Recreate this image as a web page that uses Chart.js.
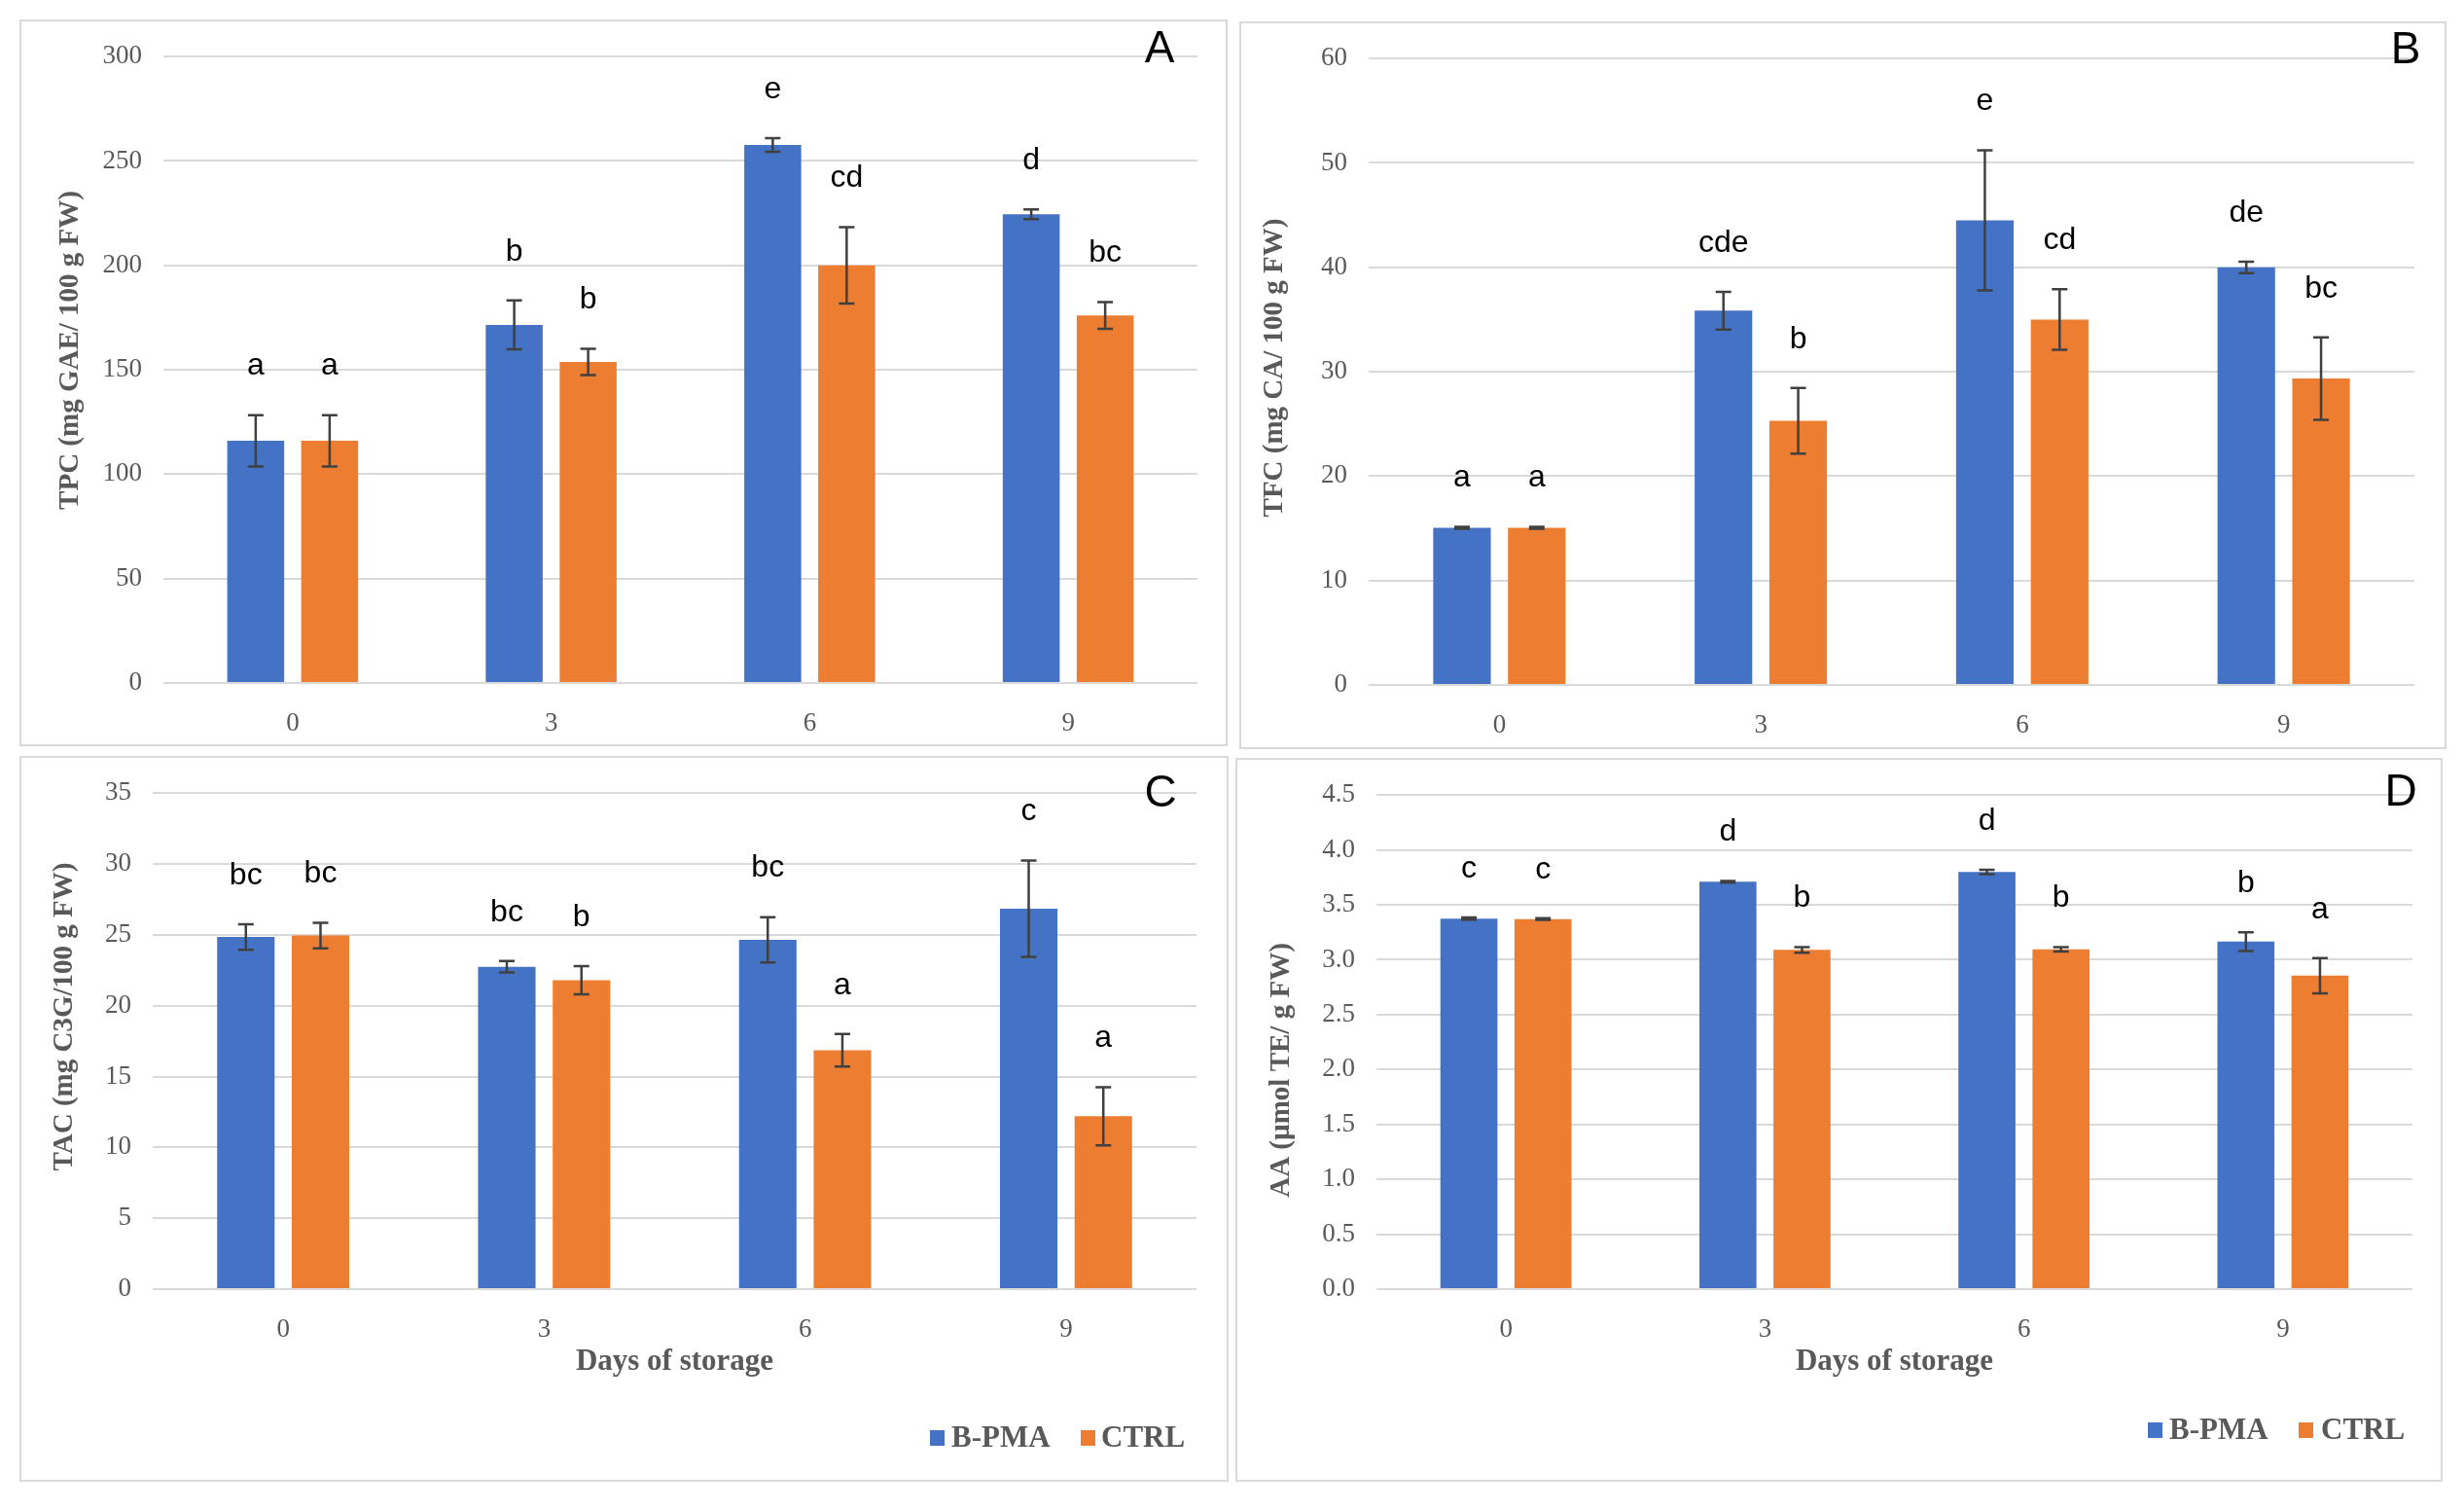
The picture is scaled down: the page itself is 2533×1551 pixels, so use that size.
<!DOCTYPE html>
<html>
<head>
<meta charset="utf-8">
<script src="https://cdn.jsdelivr.net/npm/chart.js@4.4.1/dist/chart.umd.min.js"></script>
<style>
  html, body { margin:0; padding:0; background:#ffffff; }
  body { width:2533px; height:1551px; position:relative; overflow:hidden; }
  .frame { position:absolute; border:2px solid #d9d9d9; box-sizing:border-box; }
  canvas { position:absolute; }
</style>
</head>
<body>
<div class="frame" id="fA"></div><canvas id="cA"></canvas>
<div class="frame" id="fB"></div><canvas id="cB"></canvas>
<div class="frame" id="fC"></div><canvas id="cC"></canvas>
<div class="frame" id="fD"></div><canvas id="cD"></canvas>
<script>
// ---------------- DATA ----------------
const days = ['0', '3', '6', '9'];
const seriesNames = ['B-PMA', 'CTRL'];

// A: TPC
const tpcBPMA = [116, 171.5, 257.7, 224.5];
const tpcBPMAErr = [12.3, 11.7, 3.3, 2.3];
const tpcCTRL = [116, 153.8, 200, 176];
const tpcCTRLErr = [12.3, 6.3, 18.3, 6.4];
const tpcLettersBPMA = ['a', 'b', 'e', 'd'];
const tpcLettersCTRL = ['a', 'b', 'cd', 'bc'];

// B: TFC
const tfcBPMA = [15.05, 35.85, 44.5, 40.0];
const tfcBPMAErr = [0.1, 1.8, 6.7, 0.55];
const tfcCTRL = [15.05, 25.3, 35.0, 29.35];
const tfcCTRLErr = [0.1, 3.15, 2.9, 3.95];
const tfcLettersBPMA = ['a', 'cde', 'e', 'de'];
const tfcLettersCTRL = ['a', 'b', 'cd', 'bc'];

// C: TAC
const tacBPMA = [24.85, 22.75, 24.65, 26.85];
const tacBPMAErr = [0.9, 0.4, 1.6, 3.4];
const tacCTRL = [24.95, 21.8, 16.85, 12.2];
const tacCTRLErr = [0.9, 1.0, 1.15, 2.05];
const tacLettersBPMA = ['bc', 'bc', 'bc', 'c'];
const tacLettersCTRL = ['bc', 'b', 'a', 'a'];

// D: AA
const aaBPMA = [3.375, 3.71, 3.80, 3.165];
const aaBPMAErr = [0.01, 0.008, 0.02, 0.085];
const aaCTRL = [3.37, 3.09, 3.095, 2.855];
const aaCTRLErr = [0.008, 0.025, 0.02, 0.16];
const aaLettersBPMA = ['c', 'd', 'd', 'b'];
const aaLettersCTRL = ['c', 'b', 'b', 'a'];

// axis titles / ranges
const yTitles = ['TPC (mg GAE/ 100 g FW)', 'TFC (mg CA/ 100 g FW)', 'TAC (mg C3G/100 g FW)', 'AA (µmol TE/ g FW)'];
const yMax = [300, 60, 35, 4.5];
const yStep = [50, 10, 5, 0.5];
const xTitle = 'Days of storage';
const panelLetters = ['A', 'B', 'C', 'D'];

// ---------------- STYLE ----------------
const BLUE = '#4472C4';
const ORANGE = '#ED7D31';
const GRAY = '#595959';
const SERIF = "'Liberation Serif', 'Times New Roman', serif";
const SANS = "'Liberation Sans', Arial, sans-serif";

// ---------------- PLUGINS ----------------
const errorBarPlugin = {
  id: 'errorBars',
  afterDatasetsDraw(chart) {
    const ctx = chart.ctx;
    const y = chart.scales.y;
    ctx.save();
    ctx.strokeStyle = '#404040';
    ctx.lineWidth = 2.5;
    chart.data.datasets.forEach((ds, di) => {
      const meta = chart.getDatasetMeta(di);
      meta.data.forEach((bar, i) => {
        const v = ds.data[i], e = ds.err[i];
        const yt = y.getPixelForValue(v + e), yb = y.getPixelForValue(v - e);
        const x = bar.x, cap = 8;
        ctx.beginPath();
        ctx.moveTo(x, yt); ctx.lineTo(x, yb);
        ctx.moveTo(x - cap, yt); ctx.lineTo(x + cap, yt);
        ctx.moveTo(x - cap, yb); ctx.lineTo(x + cap, yb);
        ctx.stroke();
      });
    });
    ctx.restore();
  }
};

const letterPlugin = {
  id: 'letters',
  afterDatasetsDraw(chart) {
    const ctx = chart.ctx;
    const y = chart.scales.y;
    ctx.save();
    ctx.fillStyle = '#000000';
    ctx.font = '32px ' + SANS;
    ctx.textAlign = 'center';
    ctx.textBaseline = 'middle';
    chart.data.datasets.forEach((ds, di) => {
      const meta = chart.getDatasetMeta(di);
      meta.data.forEach((bar, i) => {
        const yt = y.getPixelForValue(ds.data[i] + ds.err[i]);
        ctx.fillText(ds.letters[i], bar.x, yt - 50);
      });
    });
    ctx.restore();
  }
};

const decorPlugin = {
  id: 'decor',
  afterDraw(chart, args, o) {
    const ctx = chart.ctx;
    ctx.save();
    // y-axis title
    ctx.translate(o.yt.x, o.yt.y);
    ctx.rotate(-Math.PI / 2);
    ctx.font = 'bold 29px ' + SERIF;
    ctx.fillStyle = GRAY;
    ctx.textAlign = 'center';
    ctx.textBaseline = 'middle';
    ctx.fillText(o.yt.text, 0, 0);
    ctx.restore();
    // panel letter
    ctx.save();
    ctx.font = '46px ' + SANS;
    ctx.fillStyle = '#000000';
    ctx.textAlign = 'center';
    ctx.textBaseline = 'middle';
    ctx.fillText(o.pl.text, o.pl.x, o.pl.y);
    ctx.restore();
    // legend
    if (o.lg) {
      ctx.save();
      ctx.font = 'bold 31px ' + SERIF;
      ctx.textBaseline = 'middle';
      ctx.textAlign = 'left';
      chart.data.datasets.forEach((ds, di) => {
        const it = o.lg[di];
        ctx.fillStyle = ds.backgroundColor;
        ctx.fillRect(it.sx, o.lgY - 8, 15, 16);
        ctx.fillStyle = GRAY;
        ctx.fillText(ds.label, it.tx, o.lgY + 1);
      });
      ctx.restore();
    }
  }
};

// ---------------- BUILD ----------------
function makePanel(k, box, area, b, be, bl, c, ce, cl, decor, withXTitle, decimals) {
  const f = document.getElementById('f' + k);
  const cv = document.getElementById('c' + k);
  [f, cv].forEach(el => {
    el.style.left = box.x + 'px'; el.style.top = box.y + 'px';
    el.style.width = box.w + 'px'; el.style.height = box.h + 'px';
  });
  cv.width = box.w; cv.height = box.h;
  const idx = panelLetters.indexOf(k);
  new Chart(cv, {
    type: 'bar',
    data: {
      labels: days,
      datasets: [
        { label: seriesNames[0], data: b, err: be, letters: bl, backgroundColor: BLUE },
        { label: seriesNames[1], data: c, err: ce, letters: cl, backgroundColor: ORANGE }
      ]
    },
    options: {
      responsive: false,
      animation: false,
      devicePixelRatio: 1,
      layout: { padding: { left: 0, top: area.t, right: area.r, bottom: 0 } },
      datasets: { bar: { categoryPercentage: 0.572, barPercentage: 0.77 } },
      plugins: {
        legend: { display: false },
        tooltip: { enabled: false },
        decor: decor
      },
      scales: {
        x: {
          grid: { display: false },
          border: { display: false },
          ticks: { font: { family: SERIF, size: 27 }, color: GRAY, padding: 18 },
          title: {
            display: withXTitle, text: xTitle, color: GRAY,
            font: { family: SERIF, size: 31, weight: 'bold' },
            padding: { top: 0, bottom: 104 }
          },
          afterFit(s) { s.height = area.b; }
        },
        y: {
          min: 0, max: yMax[idx],
          ticks: {
            stepSize: yStep[idx],
            font: { family: SERIF, size: 27 }, color: GRAY, padding: 22,
            callback: v => Number(v).toFixed(decimals)
          },
          grid: { color: '#d9d9d9', lineWidth: 2, drawTicks: false },
          border: { display: false },
          afterFit(s) { s.width = area.l; }
        }
      }
    },
    plugins: [errorBarPlugin, letterPlugin, decorPlugin]
  });
}

makePanel('A', { x: 20, y: 20, w: 1242, h: 747 }, { l: 148, t: 32, r: 31, b: 65 },
  tpcBPMA, tpcBPMAErr, tpcLettersBPMA, tpcCTRL, tpcCTRLErr, tpcLettersCTRL,
  { yt: { text: yTitles[0], x: 53, y: 340 }, pl: { text: panelLetters[0], x: 1172, y: 31 } }, false, 0);

makePanel('B', { x: 1274, y: 22, w: 1241, h: 748 }, { l: 133, t: 33, r: 33, b: 66 },
  tfcBPMA, tfcBPMAErr, tfcLettersBPMA, tfcCTRL, tfcCTRLErr, tfcLettersCTRL,
  { yt: { text: yTitles[1], x: 37, y: 356 }, pl: { text: panelLetters[1], x: 1199, y: 30 } }, false, 0);

makePanel('C', { x: 20, y: 777, w: 1243, h: 746 }, { l: 137, t: 33, r: 33, b: 198 },
  tacBPMA, tacBPMAErr, tacLettersBPMA, tacCTRL, tacCTRLErr, tacLettersCTRL,
  { yt: { text: yTitles[2], x: 47, y: 268 }, pl: { text: panelLetters[2], x: 1173, y: 39 },
    lg: [{ sx: 936, tx: 958 }, { sx: 1091, tx: 1112 }], lgY: 701 }, true, 0);

makePanel('D', { x: 1270, y: 779, w: 1241, h: 744 }, { l: 145, t: 32, r: 31, b: 198 },
  aaBPMA, aaBPMAErr, aaLettersBPMA, aaCTRL, aaCTRLErr, aaLettersCTRL,
  { yt: { text: yTitles[3], x: 48, y: 321 }, pl: { text: panelLetters[3], x: 1198, y: 36 },
    lg: [{ sx: 938, tx: 960 }, { sx: 1093, tx: 1116 }], lgY: 691 }, true, 1);
</script>
</body>
</html>
